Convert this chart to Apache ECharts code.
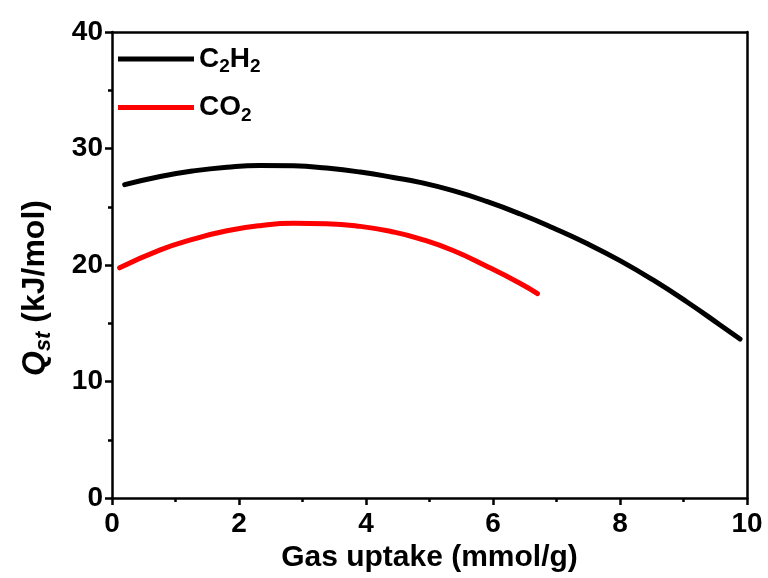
<!DOCTYPE html>
<html>
<head>
<meta charset="utf-8">
<script src="https://cdn.jsdelivr.net/npm/echarts@6/dist/echarts.min.js"></script>
<style>
  html, body { margin: 0; padding: 0; background: #fff; }
  #chart { width: 768px; height: 578px; }
</style>
</head>
<body>
<div id="chart"></div>
<script>
// Isosteric heat of adsorption vs. gas loading
const c2h2Uptake = [0.20, 0.76, 1.28, 1.81, 2.33, 2.86, 3.38, 3.91, 4.43, 4.85, 5.37, 5.90, 6.43, 6.95, 7.48, 8.00, 8.52, 9.05, 9.57, 9.89];
const c2h2Qst    = [26.9, 27.6, 28.08, 28.4, 28.55, 28.52, 28.32, 27.98, 27.52, 27.1, 26.38, 25.46, 24.38, 23.18, 21.85, 20.38, 18.72, 16.85, 14.88, 13.65];

const co2Uptake = [0.12, 0.76, 1.28, 1.81, 2.33, 2.86, 3.38, 3.91, 4.43, 4.85, 5.37, 5.90, 6.43, 6.70];
const co2Qst    = [19.76, 21.3, 22.22, 22.94, 23.38, 23.58, 23.55, 23.32, 22.84, 22.25, 21.25, 19.9, 18.42, 17.55];

const xTicks = [0, 2, 4, 6, 8, 10];
const yTicks = [0, 10, 20, 30, 40];

const FONT = '"Liberation Sans", Arial, sans-serif';

const pairs = (xs, ys) => xs.map((x, i) => [x, ys[i]]);

const chart = echarts.init(document.getElementById('chart'));

// plain lines closing the frame on the top and right
const frameAxis = {
  axisLine: { show: true, onZero: false, lineStyle: { color: '#000', width: 2.5 } },
  axisTick: { show: false },
  axisLabel: { show: false },
  splitLine: { show: false }
};

const tickStyle = { width: 2.5, color: '#000' };

chart.setOption({
  animation: false,
  backgroundColor: '#fff',
  grid: { left: 112, right: 21, top: 32, bottom: 79 },
  legend: {
    orient: 'vertical',
    left: 113,
    top: 40,
    itemWidth: 76,
    itemHeight: 5,
    itemGap: 17,
    icon: 'rect',
    data: ['C2H2', 'CO2'],
    formatter: function (name) {
      return name === 'C2H2' ? '{m|C}{s|2}{m|H}{s|2}' : '{m|CO}{s|2}';
    },
    textStyle: {
      rich: {
        m: { fontFamily: FONT, fontWeight: 'bold', fontSize: 28, color: '#000' },
        s: { fontFamily: FONT, fontWeight: 'bold', fontSize: 19, color: '#000', padding: [16, 0, 0, 0] }
      }
    }
  },
  xAxis: [
    {
      type: 'value',
      min: 0, max: 10, interval: 2,
      name: 'Gas uptake (mmol/g)',
      nameLocation: 'middle',
      nameGap: 41,
      nameTextStyle: { fontFamily: FONT, fontWeight: 'bold', fontSize: 30, color: '#000' },
      axisLine: { onZero: false, lineStyle: { color: '#000', width: 2.5 } },
      axisTick: { inside: false, length: 7, lineStyle: tickStyle },
      minorTick: { show: true, splitNumber: 2, length: 4, lineStyle: tickStyle },
      axisLabel: {
        margin: 12,
        fontFamily: FONT, fontWeight: 'bold', fontSize: 28, color: '#000',
        formatter: v => xTicks.includes(v) ? String(v) : ''
      },
      splitLine: { show: false }
    },
    Object.assign({ type: 'value', position: 'top', min: 0, max: 10 }, frameAxis)
  ],
  yAxis: [
    {
      type: 'value',
      min: 0, max: 40, interval: 10,
      name: '{q|Q}{st|st}{n| (kJ/mol)}',
      nameLocation: 'middle',
      nameGap: 57,
      nameRotate: 90,
      nameTextStyle: {
        padding: [0, 46, 0, 0],
        rich: {
          q: { fontFamily: FONT, fontWeight: 'bold', fontStyle: 'italic', fontSize: 32, color: '#000' },
          st: { fontFamily: FONT, fontWeight: 'bold', fontStyle: 'italic', fontSize: 22, color: '#000', padding: [18, 0, 0, 0] },
          n: { fontFamily: FONT, fontWeight: 'bold', fontSize: 32, color: '#000' }
        }
      },
      axisLine: { onZero: false, lineStyle: { color: '#000', width: 2.5 } },
      axisTick: { inside: false, length: 7, lineStyle: tickStyle },
      minorTick: { show: true, splitNumber: 2, length: 4, lineStyle: tickStyle },
      axisLabel: {
        margin: 9,
        fontFamily: FONT, fontWeight: 'bold', fontSize: 28, color: '#000',
        formatter: v => yTicks.includes(v) ? String(v) : ''
      },
      splitLine: { show: false }
    },
    Object.assign({ type: 'value', position: 'right', min: 0, max: 40 }, frameAxis)
  ],
  series: [
    {
      name: 'C2H2',
      type: 'line',
      smooth: 0.5,
      showSymbol: false,
      color: '#000',
      lineStyle: { color: '#000', width: 5, cap: 'round' },
      data: pairs(c2h2Uptake, c2h2Qst)
    },
    {
      name: 'CO2',
      type: 'line',
      smooth: 0.5,
      showSymbol: false,
      color: '#ff0000',
      lineStyle: { color: '#ff0000', width: 5, cap: 'round' },
      data: pairs(co2Uptake, co2Qst)
    }
  ]
});
</script>
</body>
</html>
